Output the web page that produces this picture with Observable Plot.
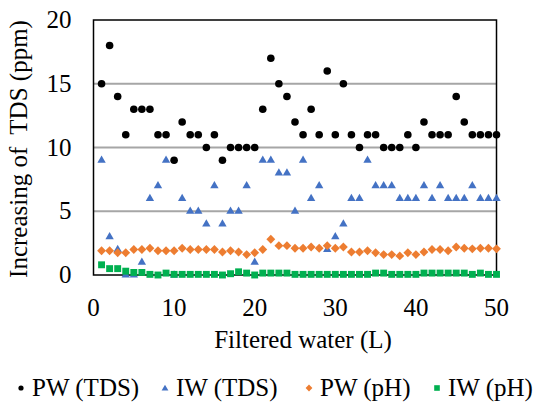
<!DOCTYPE html>
<html>
<head>
<meta charset="utf-8">
<script src="https://cdn.jsdelivr.net/npm/d3@7"></script>
<script src="https://cdn.jsdelivr.net/npm/@observablehq/plot@0.6"></script>
</head>
<body style="margin:0;font-size:25px;background:#fff">
<div id="chart"></div>
<div id="legend" style="position:relative;width:543px;height:50px;line-height:30px;font-size:25px;color:#000"></div>
<script>
// Filtered water (L)
const liters = [1,2,3,4,5,6,7,8,9,10,11,12,13,14,15,16,17,18,19,20,21,22,23,24,25,26,27,28,29,30,31,32,33,34,35,36,37,38,39,40,41,42,43,44,45,46,47,48,49,50];
// PW (TDS)
const pwTDS = [15,18,14,11,13,13,13,11,11,9,12,11,11,10,11,9,10,10,10,10,13,17,15,14,12,11,13,11,16,11,15,11,10,11,11,10,10,10,11,10,12,11,11,11,14,12,11,11,11,11];
// IW (TDS)
const iwTDS = [9,3,2,0,0,1,6,7,9,0,6,5,5,4,7,4,5,5,7,1,9,9,8,8,5,9,6,7,2,3,4,6,6,9,7,7,7,6,6,6,7,6,7,6,6,6,7,6,6,6];
// PW (pH)
const pwPH = [1.9,1.9,1.75,1.75,2.0,2.0,2.1,1.9,1.9,1.9,2.1,2.0,2.0,2.0,2.0,1.8,1.9,1.8,1.6,1.75,2.0,2.8,2.3,2.3,2.1,2.1,2.2,2.1,2.3,2.1,2.2,1.8,1.8,1.9,1.75,1.6,1.6,1.5,1.75,1.6,1.8,2.0,2.0,1.9,2.2,2.1,2.05,2.1,2.1,2.05];
// IW (pH)
const iwPH = [0.8,0.5,0.5,0.3,0.2,0.2,0.05,0,0.15,0.05,0.05,0.05,0.05,0.05,0.05,0,0.1,0.25,0.15,0,0.15,0.15,0.15,0.15,0.05,0.05,0.05,0.05,0.05,0.05,0.05,0.05,0.05,0.05,0.15,0.15,0.05,0.05,0.05,0.05,0.15,0.15,0.15,0.15,0.15,0.15,0.05,0.15,0.05,0.05];

const xTicks = [0,10,20,30,40,50];
const yTicks = [0,5,10,15,20];
const gridValues = [5,10,15];
const seriesNames = ["PW (TDS)","IW (TDS)","PW (pH)","IW (pH)"];
const seriesColors = ["#000000","#4472C4","#ED7D31","#00B050"];
const xTitle = "Filtered water (L)";
const yTitle = "Increasing of\u00a0 TDS (ppm)";
const FONT = "'Liberation Serif', Tinos, 'Times New Roman', 'DejaVu Serif', serif";

const toRows = (vals) => liters.map((x, i) => ({x, y: vals[i]}));

const chart = Plot.plot({
  width: 543,
  height: 355,
  marginLeft: 93,
  marginRight: 47,
  marginTop: 19.5,
  marginBottom: 80.5,
  style: { fontSize: "25px", background: "#fff", color: "#000" },
  x: { domain: [0, 50], ticks: xTicks, tickSize: 0, tickPadding: 23, label: null },
  y: { domain: [0, 20], ticks: yTicks, tickSize: 0, tickPadding: 22, label: null },
  marks: [
    Plot.ruleY(gridValues, { stroke: "#A6A6A6", strokeWidth: 2 }),
    Plot.frame({ stroke: "#000", strokeWidth: 1.5 }),
    Plot.dot(toRows(pwTDS), { x: "x", y: "y", symbol: "circle", r: 3.8, fill: seriesColors[0], stroke: "none" }),
    Plot.dot(toRows(iwTDS), { x: "x", y: "y", symbol: "triangle", r: 3.1, fill: seriesColors[1], stroke: "none" }),
    Plot.dot(toRows(pwPH), { x: "x", y: "y", symbol: "diamond2", r: 4, fill: seriesColors[2], stroke: "none" }),
    Plot.dot(toRows(iwPH), { x: "x", y: "y", symbol: "square", r: 3.9, fill: seriesColors[3], stroke: "none" }),
    Plot.text([xTitle], { frameAnchor: "bottom", lineAnchor: "middle", textAnchor: "middle", dy: 64.5, dx: 8, fontSize: 25, fill: "#000" }),
    Plot.text([yTitle], { frameAnchor: "left", lineAnchor: "middle", textAnchor: "middle", rotate: -90, dx: -75, dy: 1.5, fontSize: 25, fill: "#000" })
  ]
});
document.getElementById("chart").appendChild(chart);

// Legend
const legend = document.getElementById("legend");
const markerSvgs = [
  '<svg width="12" height="12" viewBox="-6 -6 12 12" style="margin-right:5px"><circle r="2.6" fill="#000000"/></svg>',
  '<svg width="12" height="12" viewBox="-6 -6 12 12" style="margin-right:5px"><path d="M0,-3.2L3.4,2.6L-3.4,2.6Z" fill="#4472C4"/></svg>',
  '<svg width="12" height="12" viewBox="-6 -6 12 12" style="margin-right:5px"><path d="M0,-3.4L3.4,0L0,3.4L-3.4,0Z" fill="#ED7D31"/></svg>',
  '<svg width="12" height="12" viewBox="-6 -6 12 12" style="margin-right:5px"><rect x="-2.8" y="-2.8" width="5.6" height="5.6" fill="#00B050"/></svg>'
];
const legendLefts = [15, 159, 303, 431];
seriesNames.forEach((name, i) => {
  const item = document.createElement("div");
  item.style.cssText = "position:absolute;top:17.6px;display:flex;align-items:center;white-space:nowrap;left:" + legendLefts[i] + "px";
  item.innerHTML = markerSvgs[i] + "<span>" + name + "</span>";
  legend.appendChild(item);
});

// Serif family everywhere
const applyFont = (el) => el.style.setProperty("font-family", FONT, "important");
applyFont(document.body);
applyFont(chart);
chart.querySelectorAll("text, tspan, g").forEach(applyFont);
applyFont(legend);
legend.querySelectorAll("div, span").forEach(applyFont);
</script>
</body>
</html>
